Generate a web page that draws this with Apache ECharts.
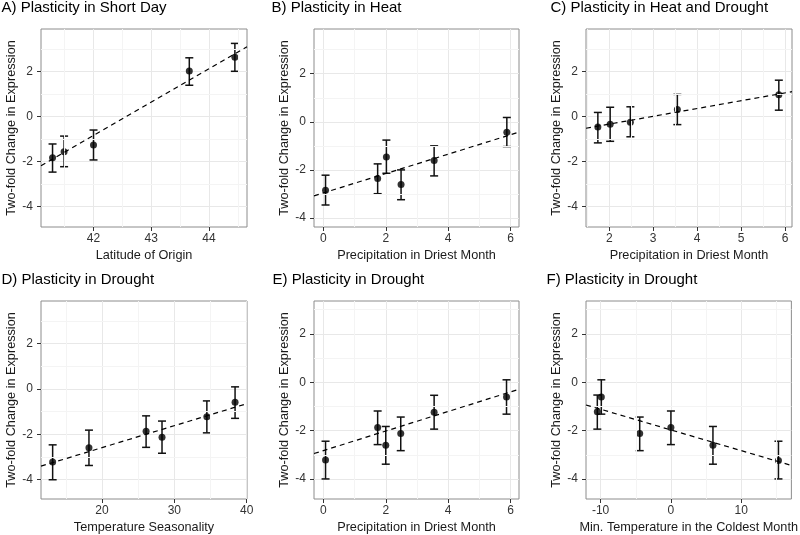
<!DOCTYPE html>
<html><head><meta charset="utf-8">
<script src="https://cdn.jsdelivr.net/npm/echarts@6/dist/echarts.min.js"></script>
<style>html,body{margin:0;padding:0;background:#fff}#c{width:800px;height:535px}</style>
</head><body><div id="c"></div>
<script>
// ---------------- data ----------------
const panelTitles = ['A) Plasticity in Short Day', 'B) Plasticity in Heat', 'C) Plasticity in Heat and Drought',
                     'D) Plasticity in Drought', 'E) Plasticity in Drought', 'F) Plasticity in Drought'];
const xAxisTitles = ['Latitude of Origin', 'Precipitation in Driest Month', 'Precipitation in Driest Month',
                     'Temperature Seasonality', 'Precipitation in Driest Month', 'Min. Temperature in the Coldest Month'];
const yAxisTitle = 'Two-fold Change in Expression';

// A) short day vs latitude
const latitude   = [41.29, 41.49, 42.00, 43.66, 44.45];
const shortDay   = [-1.84, -1.57, -1.28, 2.01, 2.62];
const shortDayLo = [-2.48, -2.24, -1.94, 1.38, 2.00];
const shortDayHi = [-1.23, -0.88, -0.61, 2.60, 3.24];
const fitAx = [41.09, 44.66], fitAy = [-2.20, 3.09];

// B) heat vs precipitation in driest month
const precipB = [0.07, 1.74, 2.02, 2.49, 3.55, 5.88];
const heat    = [-2.85, -2.36, -1.46, -2.61, -1.61, -0.43];
const heatLo  = [-3.46, -2.99, -2.14, -3.24, -2.25, -1.03];
const heatHi  = [-2.22, -1.75, -0.76, -2.00, -1.00, 0.18];
const fitBx = [-0.30, 6.27], fitBy = [-3.08, -0.43];

// C) heat and drought vs precipitation in driest month
const precipC        = [1.74, 2.02, 2.48, 3.55, 5.86];
const heatDrought    = [-0.47, -0.34, -0.25, 0.31, 0.96];
const heatDroughtLo  = [-1.17, -1.10, -0.90, -0.36, 0.28];
const heatDroughtHi  = [0.18, 0.41, 0.43, 0.98, 1.61];
const fitCx = [1.47, 6.16], fitCy = [-0.52, 1.10];

// D) drought vs temperature seasonality
const seasonality = [13.18, 18.2, 26.1, 28.3, 34.5, 38.4];
const droughtD    = [-3.23, -2.60, -1.87, -2.13, -1.23, -0.59];
const droughtDLo  = [-4.01, -3.38, -2.58, -2.84, -1.94, -1.30];
const droughtDHi  = [-2.47, -1.82, -1.19, -1.42, -0.53, 0.09];
const fitDx = [11.57, 40.05], fitDy = [-3.41, -0.65];

// E) drought vs precipitation in driest month
const precipE    = [0.07, 1.74, 2.00, 2.48, 3.55, 5.87];
const droughtE   = [-3.22, -1.875, -2.61, -2.125, -1.24, -0.61];
const droughtELo = [-4.00, -2.58, -3.39, -2.83, -1.94, -1.32];
const droughtEHi = [-2.44, -1.19, -1.83, -1.44, -0.54, 0.10];
const fitEx = [-0.30, 6.27], fitEy = [-2.95, -0.29];

// F) drought vs min. temperature in the coldest month
const minTemp    = [-10.47, -9.90, -4.44, 0.00, 5.98, 15.30];
const droughtF   = [-1.22, -0.61, -2.125, -1.875, -2.61, -3.24];
const droughtFLo = [-1.94, -1.32, -2.83, -2.58, -3.39, -4.00];
const droughtFHi = [-0.53, 0.10, -1.44, -1.19, -1.83, -2.44];
const fitFx = [-12.08, 17.14], fitFy = [-0.94, -3.44];

// tick labels
const xTicksA = [42, 43, 44],        xMinorA = [41.5, 42.5, 43.5, 44.5];
const xTicksB = [0, 2, 4, 6],        xMinorB = [1, 3, 5];
const xTicksC = [2, 3, 4, 5, 6],     xMinorC = [1.5, 2.5, 3.5, 4.5, 5.5];
const xTicksD = [20, 30, 40],        xMinorD = [15, 25, 35];
const xTicksF = [-10, 0, 10],        xMinorF = [-5, 5, 15];
const yTicks  = [-4, -2, 0, 2],      yMinor  = [-3, -1, 1, 3];

// ---------------- assembly ----------------
const panels = [
  {x: latitude,    y: shortDay,    lo: shortDayLo,    hi: shortDayHi,    fx: fitAx, fy: fitAy, xt: xTicksA, xm: xMinorA},
  {x: precipB,     y: heat,        lo: heatLo,        hi: heatHi,        fx: fitBx, fy: fitBy, xt: xTicksB, xm: xMinorB},
  {x: precipC,     y: heatDrought, lo: heatDroughtLo, hi: heatDroughtHi, fx: fitCx, fy: fitCy, xt: xTicksC, xm: xMinorC},
  {x: seasonality, y: droughtD,    lo: droughtDLo,    hi: droughtDHi,    fx: fitDx, fy: fitDy, xt: xTicksD, xm: xMinorD},
  {x: precipE,     y: droughtE,    lo: droughtELo,    hi: droughtEHi,    fx: fitEx, fy: fitEy, xt: xTicksB, xm: xMinorB},
  {x: minTemp,     y: droughtF,    lo: droughtFLo,    hi: droughtFHi,    fx: fitFx, fy: fitFy, xt: xTicksF, xm: xMinorF}
];

// layout (pixel boxes and axis limits)
const layout = [
  {left: 41,  top: 29,  width: 206, height: 198, xmin: 41.09, xmax: 44.66, ymin: -4.92, ymax: 3.88, tl: 1.5,  tt: 0.5},
  {left: 314, top: 29,  width: 205, height: 198, xmin: -0.30, xmax: 6.27,  ymin: -4.375, ymax: 3.86, tl: 271.5, tt: 0.5},
  {left: 586, top: 29,  width: 206, height: 198, xmin: 1.47,  xmax: 6.16,  ymin: -4.90, ymax: 3.88, tl: 550.5, tt: 0.5},
  {left: 41,  top: 301, width: 206, height: 198, xmin: 11.57, xmax: 40.05, ymin: -4.86, ymax: 3.88, tl: 1.5,  tt: 272.5},
  {left: 314, top: 301, width: 205, height: 198, xmin: -0.30, xmax: 6.27,  ymin: -4.83, ymax: 3.36, tl: 272.5, tt: 272.5},
  {left: 586, top: 301, width: 207, height: 198, xmin: -12.08, xmax: 17.14, ymin: -4.83, ymax: 3.36, tl: 546.5, tt: 272.5}
];

const FONT = "'Liberation Sans', Arial, Helvetica, sans-serif";
const option = {
  animation: false,
  backgroundColor: '#ffffff',
  title: [], grid: [], xAxis: [], yAxis: [], series: []
};

panels.forEach((p, i) => {
  const L = layout[i];
  option.title.push({
    text: panelTitles[i], left: L.tl, top: L.tt, padding: 0,
    textStyle: {fontFamily: FONT, fontSize: 15, fontWeight: 'normal', color: '#000000'}
  });
  option.grid.push({
    left: L.left, top: L.top, width: L.width, height: L.height,
    show: true, backgroundColor: '#ffffff', borderColor: '#8c8c8c', borderWidth: 1, containLabel: false
  });
  option.xAxis.push({
    type: 'value', gridIndex: i, min: L.xmin, max: L.xmax, position: 'bottom',
    name: xAxisTitles[i], nameLocation: 'middle', nameGap: 21.5,
    nameTextStyle: {fontFamily: FONT, fontSize: 12.7, color: '#1a1a1a'},
    axisLine: {show: false, onZero: false},
    axisTick: {show: true, customValues: p.xt, length: 4, lineStyle: {color: '#333333', width: 1}},
    axisLabel: {customValues: p.xt, margin: 6, fontFamily: FONT, fontSize: 12, color: '#333333'},
    splitLine: {show: true, lineStyle: {color: '#e8e8e8', width: 1}}
  });
  option.yAxis.push({
    type: 'value', gridIndex: i, min: L.ymin, max: L.ymax, position: 'left',
    name: yAxisTitle, nameLocation: 'middle', nameGap: 22,
    nameTextStyle: {fontFamily: FONT, fontSize: 12.7, color: '#1a1a1a'},
    axisLine: {show: false, onZero: false},
    axisTick: {show: true, customValues: yTicks, length: 4, lineStyle: {color: '#333333', width: 1}},
    axisLabel: {customValues: yTicks, margin: 8, fontFamily: FONT, fontSize: 12, color: '#333333'},
    splitLine: {show: true, lineStyle: {color: '#e8e8e8', width: 1}}
  });
  // minor grid lines
  option.series.push({
    type: 'line', xAxisIndex: i, yAxisIndex: i, data: [], z: 1, silent: true,
    markLine: {
      silent: true, symbol: ['none', 'none'], label: {show: false}, animation: false,
      lineStyle: {color: '#f4f4f4', type: 'solid', width: 1},
      emphasis: {disabled: true},
      data: p.xm.map(v => ({xAxis: v})).concat(yMinor.map(v => ({yAxis: v})))
    }
  });
  // error bars
  option.series.push({
    type: 'custom', xAxisIndex: i, yAxisIndex: i, z: 3, silent: true,
    data: p.x.map((xv, k) => [xv, p.lo[k], p.hi[k]]),
    encode: {x: 0, y: [1, 2]},
    renderItem: function (params, api) {
      const xv = api.value(0);
      const top = api.coord([xv, api.value(2)]);
      const bot = api.coord([xv, api.value(1)]);
      const hw = 4;
      const st = {stroke: '#111111', lineWidth: 1.5, fill: null};
      return {type: 'group', children: [
        {type: 'line', shape: {x1: top[0], y1: top[1], x2: bot[0], y2: bot[1]}, style: st},
        {type: 'line', shape: {x1: top[0] - hw, y1: top[1], x2: top[0] + hw, y2: top[1]}, style: st},
        {type: 'line', shape: {x1: bot[0] - hw, y1: bot[1], x2: bot[0] + hw, y2: bot[1]}, style: st}
      ]};
    }
  });
  // points
  option.series.push({
    type: 'scatter', xAxisIndex: i, yAxisIndex: i, z: 4, silent: true,
    symbol: 'circle', symbolSize: 7,
    itemStyle: {color: '#000000'},
    data: p.x.map((xv, k) => [xv, p.y[k]])
  });
  // regression line
  option.series.push({
    type: 'line', xAxisIndex: i, yAxisIndex: i, z: 5, silent: true,
    symbol: 'none', clip: true,
    lineStyle: {color: '#000000', width: 1.2, type: [5, 4]},
    data: p.fx.map((xv, k) => [xv, p.fy[k]])
  });
});

const chart = echarts.init(document.getElementById('c'), null, {renderer: 'canvas'});
chart.setOption(option);
</script>
</body></html>
